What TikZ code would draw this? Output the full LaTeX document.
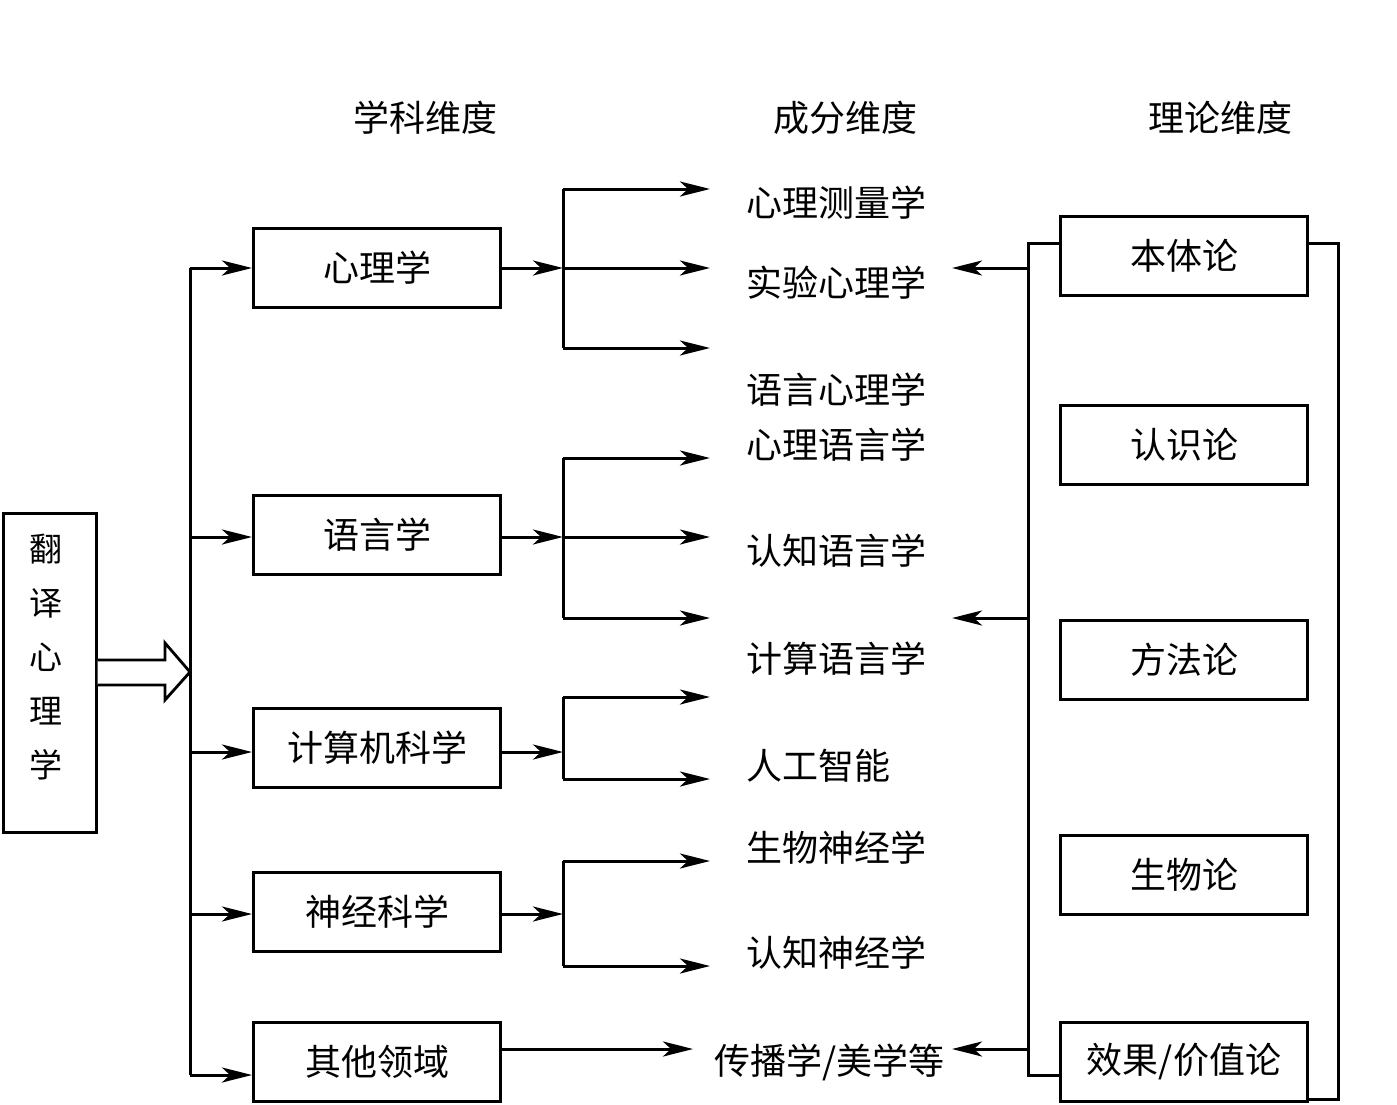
\documentclass[tikz,border=0pt]{standalone}
\usepackage{fontspec}
\setmainfont{Noto Sans CJK SC}
\usetikzlibrary{arrows.meta}
\begin{document}
\begin{tikzpicture}[x=1pt,y=-1pt,line width=3pt,
  box/.style={draw,minimum width=247pt,minimum height=79pt,inner sep=0pt,font=\fontsize{36}{42}\selectfont},
  lbl/.style={anchor=west,inner sep=0pt,font=\fontsize{36}{42}\selectfont},
  hdr/.style={inner sep=0pt,font=\fontsize{36}{42}\selectfont},
  arr/.style={-{Stealth[length=30pt,width=15pt,inset=8pt]}}]
\useasboundingbox (0,0) rectangle (1397,1105);

% headers
\node[hdr] (h1) at (425,118) {学科维度};
\node[hdr] (h2) at (845,118) {成分维度};
\node[hdr] (h3) at (1220,118) {理论维度};

% left root box
\node[draw,minimum width=93pt,minimum height=319pt,inner sep=0pt] (root) at (49.5,672.5) {};
\node[inner sep=0pt,align=center,font=\fontsize{33}{54}\selectfont] (rootlbl) at (46,657) {翻\\译\\心\\理\\学};

% hollow arrow
\draw[line width=2.8pt,fill=white] (root.east |- 0,660) -- (165,660) -- (165,643) -- (190,672) -- (165,700) -- (165,685) -- (root.east |- 0,685);

% discipline boxes
\node[box] (b1) at (377,268) {心理学};
\node[box] (b2) at (377,535) {语言学};
\node[box] (b3) at (377,748) {计算机科学};
\node[box] (b4) at (377,912) {神经科学};
\node[box] (b5) at (377,1062) {其他领域};

% trunk
\coordinate (t1) at (190,268);
\coordinate (t2) at (190,537);
\coordinate (t3) at (190,752);
\coordinate (t4) at (190,914);
\coordinate (t5) at (190,1075);
\draw (t1) -- (t5);
\draw[arr] (t1) -- (t1 -| b1.west);
\draw[arr] (t2) -- (t2 -| b2.west);
\draw[arr] (t3) -- (t3 -| b3.west);
\draw[arr] (t4) -- (t4 -| b4.west);
\draw[arr] (t5) -- (t5 -| b5.west);

% component labels
\node[lbl] (c1) at (745,203) {心理测量学};
\node[lbl] (c2) at (745,283) {实验心理学};
\node[lbl] (c3) at (745,390) {语言心理学};
\node[lbl] (c4) at (745,445) {心理语言学};
\node[lbl] (c5) at (745,551) {认知语言学};
\node[lbl] (c6) at (745,659) {计算语言学};
\node[lbl] (c7) at (745,766) {人工智能};
\node[lbl] (c8) at (745,848) {生物神经学};
\node[lbl] (c9) at (745,953) {认知神经学};
\node[lbl] (c10) at (713,1062) {传播学/美学等};

% branches
\coordinate (p1) at (563,268);
\coordinate (p1a) at (563,189);
\coordinate (p1c) at (563,348);
\coordinate (e1a) at (710,189);
\coordinate (e1b) at (710,268);
\coordinate (e1c) at (710,348);
\draw[arr] (b1.east |- p1) -- (p1);
\draw (p1a) -- (p1c);
\draw[arr] (p1a) -- (e1a);
\draw[arr] (p1) -- (e1b);
\draw[arr] (p1c) -- (e1c);

\coordinate (p2) at (563,537);
\coordinate (p2a) at (563,458);
\coordinate (p2c) at (563,618);
\coordinate (e2a) at (710,458);
\coordinate (e2b) at (710,537);
\coordinate (e2c) at (710,618);
\draw[arr] (b2.east |- p2) -- (p2);
\draw (p2a) -- (p2c);
\draw[arr] (p2a) -- (e2a);
\draw[arr] (p2) -- (e2b);
\draw[arr] (p2c) -- (e2c);

\coordinate (p3) at (563,752);
\coordinate (p3a) at (563,697);
\coordinate (p3c) at (563,779);
\coordinate (e3a) at (710,697);
\coordinate (e3c) at (710,779);
\draw[arr] (b3.east |- p3) -- (p3);
\draw (p3a) -- (p3c);
\draw[arr] (p3a) -- (e3a);
\draw[arr] (p3c) -- (e3c);

\coordinate (p4) at (563,914);
\coordinate (p4a) at (563,861);
\coordinate (p4c) at (563,966);
\coordinate (e4a) at (710,861);
\coordinate (e4c) at (710,966);
\draw[arr] (b4.east |- p4) -- (p4);
\draw (p4a) -- (p4c);
\draw[arr] (p4a) -- (e4a);
\draw[arr] (p4c) -- (e4c);

\coordinate (e5) at (693,1049);
\draw[arr] (b5.east |- e5) -- (e5);

% theory boxes
\node[box] (r1) at (1184,256) {本体论};
\node[box] (r2) at (1184,445) {认识论};
\node[box] (r3) at (1184,660) {方法论};
\node[box] (r4) at (1184,875) {生物论};
\node[box] (r5) at (1184,1062) {效果/价值论};

% right bracket lines
\coordinate (q1) at (1028,243);
\coordinate (q2) at (1028,1075);
\draw (r1.west |- q1) -- (q1) -- (q2) -- (r5.west |- q2);
\coordinate (o1) at (1338,243);
\coordinate (o2) at (1338,1099);
\draw (r1.east |- o1) -- (o1) -- (o2) -- (r5.east |- o2);

\coordinate (qa) at (1028,268);
\coordinate (qb) at (1028,618);
\coordinate (qc) at (1028,1049);
\coordinate (fa) at (952,268);
\coordinate (fb) at (952,618);
\coordinate (fc) at (952,1049);
\draw[arr] (qa) -- (fa);
\draw[arr] (qb) -- (fb);
\draw[arr] (qc) -- (fc);
\end{tikzpicture}
\end{document}
